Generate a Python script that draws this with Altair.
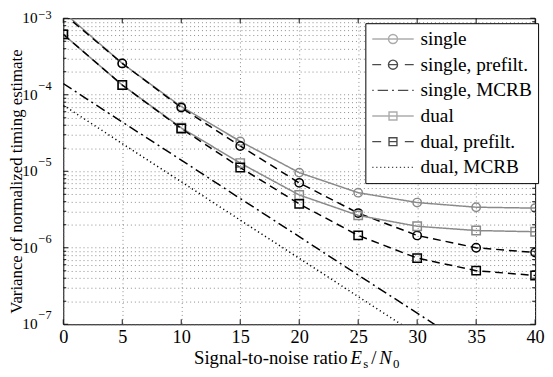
import altair as alt
import pandas as pd

# ---------------- data ----------------
snr = [0, 5, 10, 15, 20, 25, 30, 35, 40]
single = [1.21e-3, 2.57e-4, 7.0e-5, 2.46e-5, 9.6e-6, 5.25e-6, 3.9e-6, 3.39e-6, 3.30e-6]
single_prefilt = [1.15e-3, 2.57e-4, 6.8e-5, 2.14e-5, 7.06e-6, 2.84e-6, 1.45e-6, 1.0e-6, 8.67e-7]
single_mcrb = [1.4e-4, 4.4e-5, 1.4e-5, 4.4e-6, 1.4e-6, 4.4e-7, 1.4e-7, 4.4e-8, 1.4e-8]
dual = [6.16e-4, 1.34e-4, 3.7e-5, 1.28e-5, 4.9e-6, 2.65e-6, 1.91e-6, 1.68e-6, 1.62e-6]
dual_prefilt = [6.16e-4, 1.34e-4, 3.62e-5, 1.12e-5, 3.75e-6, 1.45e-6, 7.33e-7, 5.02e-7, 4.34e-7]
dual_mcrb = [7.3e-5, 2.3e-5, 7.3e-6, 2.3e-6, 7.3e-7, 2.3e-7, 7.3e-8, 2.3e-8, 7.3e-9]

series_names = ["single", "single, prefilt.", "single, MCRB",
                "dual", "dual, prefilt.", "dual, MCRB"]
series_values = [single, single_prefilt, single_mcrb, dual, dual_prefilt, dual_mcrb]
series_markers = ["circle", "circle", "none", "square", "square", "none"]

x_ticks = [0, 5, 10, 15, 20, 25, 30, 35, 40]
decades = [1e-3, 1e-4, 1e-5, 1e-6, 1e-7]
decade_exponents = ["\u22123", "\u22124", "\u22125", "\u22126", "\u22127"]
minor_ticks = [k * 10.0 ** e for e in range(-7, -3) for k in range(2, 10)]

# ---------------- styles ----------------
GRAY = "#8a8a8a"
BLACK = "#000000"
series_colors = [GRAY, BLACK, BLACK, GRAY, BLACK, BLACK]
series_dashes = [[1, 0], [8, 5], [10, 4, 2, 4], [1, 0], [8, 5], [1.2, 3]]
series_widths = [1.5, 1.5, 1.4, 1.5, 1.5, 1.2]

W, H = 478, 310
FONT = "Liberation Serif"

rows = []
for name, vals, mk in zip(series_names, series_values, series_markers):
    for x, v in zip(snr, vals):
        rows.append({"snr": x, "value": v, "series": name, "marker": mk})
df = pd.DataFrame(rows)

xscale = alt.Scale(domain=[0, 40], nice=False, zero=False)
yscale = alt.Scale(type="log", domain=[1e-7, 1e-3], nice=False)

color_scale = alt.Scale(domain=series_names, range=series_colors)
dash_scale = alt.Scale(domain=series_names, range=series_dashes)
width_scale = alt.Scale(domain=series_names, range=series_widths)

X = alt.X("snr:Q", scale=xscale,
          axis=alt.Axis(values=x_ticks, grid=True, domain=False, ticks=False,
                        labelFont=FONT, labelFontSize=18.5, labelColor="black",
                        labelPadding=3, title=None, labelFlush=False))
Y = alt.Y("value:Q", scale=yscale,
          axis=alt.Axis(values=decades + minor_ticks, grid=True, domain=False,
                        ticks=False, labels=False,
                        title="Variance of normalized timing estimate",
                        titleFont=FONT, titleFontSize=17, titleFontWeight="normal",
                        titleColor="black", titleX=-42.5, titleY=165,
                        titleBaseline="alphabetic", titleAngle=270))

base = alt.Chart(df)

lines = base.mark_line(clip=True).encode(
    x=X, y=Y,
    color=alt.Color("series:N", scale=color_scale, legend=None),
    strokeDash=alt.StrokeDash("series:N", scale=dash_scale, legend=None),
    strokeWidth=alt.StrokeWidth("series:N", scale=width_scale, legend=None),
    detail="series:N",
)

points = base.transform_filter("datum.marker != 'none'").mark_point(
    clip=True, filled=False, size=72, strokeWidth=1.5, opacity=1
).encode(
    x="snr:Q", y="value:Q",
    color=alt.Color("series:N", scale=color_scale, legend=None),
    shape=alt.Shape("marker:N", scale=alt.Scale(domain=["circle", "square"],
                                                range=["circle", "square"]),
                    legend=None),
)

# legend symbols: line + marker drawn as one path each (style only)
# unit = 9 px (symbol size 324 -> 18 px box); the path reaches +-21 px
R = 0.511
CIRC = f"M{R},0A{R},{R} 0 1,1 -{R},0A{R},{R} 0 1,1 {R},0Z"
Q = 0.444
SQR = f"M-{Q},-{Q}L{Q},-{Q}L{Q},{Q}L-{Q},{Q}Z"
L = 2.333
dots = "".join(f"M{-L + i * 0.444:.3f},0L{-L + i * 0.444 + 0.14:.3f},0" for i in range(11))
legend_paths = [
    f"M-{L},0L{L},0" + CIRC,
    f"M-{L},0L-1.333,0M1.333,0L{L},0M-{R},0L{R},0" + CIRC,
    f"M-{L},0L-2.167,0M-1.722,0L-0.556,0M-0.111,0L0.111,0M0.556,0L1.722,0M2.167,0L{L},0",
    f"M-{L},0L{L},0" + SQR,
    f"M-{L},0L-1.333,0M1.333,0L{L},0M-{Q},0L{Q},0" + SQR,
    dots,
]

legend_def = alt.Legend(
    title=None, orient="none", legendX=306, legendY=5,
    fillColor="white", strokeColor="black", padding=6,
    labelFont=FONT, labelFontSize=19.5, labelColor="black", labelLimit=300,
    symbolSize=324, symbolStrokeWidth=1.4,
    rowPadding=6, labelOffset=18, symbolOffset=12,
)

legend_layer = base.transform_filter("false").mark_point(
    filled=False, size=324, strokeWidth=1.4
).encode(
    x="snr:Q", y="value:Q",
    stroke=alt.Stroke("series:N", scale=alt.Scale(domain=series_names, range=series_colors),
                      legend=legend_def),
    shape=alt.Shape("series:N", scale=alt.Scale(domain=series_names, range=legend_paths),
                    legend=legend_def),
)

# inward tick marks
major_df = pd.DataFrame({"v": decades})
minor_df = pd.DataFrame({"v": minor_ticks})
xt_df = pd.DataFrame({"t": x_ticks})
TK = dict(color="#111", strokeWidth=1)
ticks = [
    alt.Chart(major_df).mark_rule(**TK).encode(y=alt.Y("v:Q", scale=yscale), x=alt.value(0), x2=alt.value(5)),
    alt.Chart(major_df).mark_rule(**TK).encode(y=alt.Y("v:Q", scale=yscale), x=alt.value(W), x2=alt.value(W - 5)),
    alt.Chart(minor_df).mark_rule(**TK).encode(y=alt.Y("v:Q", scale=yscale), x=alt.value(0), x2=alt.value(3)),
    alt.Chart(minor_df).mark_rule(**TK).encode(y=alt.Y("v:Q", scale=yscale), x=alt.value(W), x2=alt.value(W - 3)),
    alt.Chart(xt_df).mark_rule(**TK).encode(x=alt.X("t:Q", scale=xscale), y=alt.value(H), y2=alt.value(H - 5)),
    alt.Chart(xt_df).mark_rule(**TK).encode(x=alt.X("t:Q", scale=xscale), y=alt.value(0), y2=alt.value(5)),
]

# y tick labels 10^k
lab_df = pd.DataFrame({"v": decades, "exp": decade_exponents, "ten": ["10"] * len(decades)})
ylab_ten = alt.Chart(lab_df).mark_text(
    font=FONT, fontSize=15.5, align="right", baseline="middle", color="black"
).encode(y=alt.Y("v:Q", scale=yscale), x=alt.value(-26), text="ten:N")
ylab_exp = alt.Chart(lab_df).transform_filter("datum.v < 0.0005").mark_text(
    font=FONT, fontSize=12.5, align="left", baseline="middle", color="black", dy=-9
).encode(y=alt.Y("v:Q", scale=yscale), x=alt.value(-25), text="exp:N")
ylab_exp_top = alt.Chart(lab_df).transform_filter("datum.v > 0.0005").mark_text(
    font=FONT, fontSize=12.5, align="left", baseline="middle", color="black", dy=-3.5
).encode(y=alt.Y("v:Q", scale=yscale), x=alt.value(-25), text="exp:N")

# x axis title with math pieces
def piece(txt, x, y, size=19, style="normal", align="left"):
    return alt.Chart(pd.DataFrame({"t": [txt]})).mark_text(
        font=FONT, fontSize=size, fontStyle=style, align=align,
        baseline="alphabetic", color="black"
    ).encode(text="t:N", x=alt.value(x), y=alt.value(y))

xtitle = [
    piece("Signal-to-noise ratio", 288, 350, align="right"),
    piece("E", 291, 350, style="italic"),
    piece("s", 304, 354, size=13),
    piece("/", 312, 350),
    piece("N", 320, 350, style="italic"),
    piece("0", 334, 354, size=13),
]

chart = alt.layer(
    lines, points, legend_layer, *ticks, ylab_ten, ylab_exp, ylab_exp_top, *xtitle
).resolve_scale(
    shape="independent", stroke="independent"
).resolve_legend(
    shape="independent", stroke="independent"
).properties(
    width=W, height=H,
    autosize=alt.AutoSizeParams(type="none"),
    padding={"left": 56, "top": 8, "right": 10, "bottom": 50},
    background="white",
).configure_view(
    stroke="black", strokeWidth=1
).configure_axis(
    gridColor="#666", gridDash=[1, 3], gridOpacity=0.75, gridWidth=1
).configure_legend(
    labelFont=FONT, labelFontSize=19.5, labelColor="black"
)

chart.save("out.html", embed_options={"renderer": "svg", "actions": False})
